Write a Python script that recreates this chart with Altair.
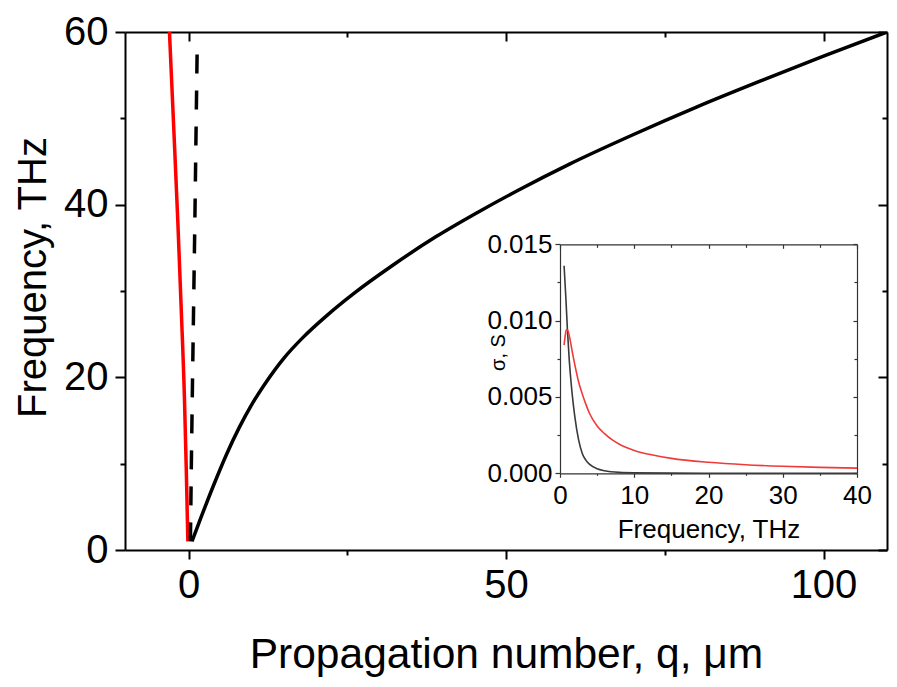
import altair as alt
import pandas as pd

FONT = "Liberation Sans"

# ---------------- main panel data ----------------
black_q = [0.55, 2, 4, 6, 8, 10, 12, 15, 18, 22, 26, 32, 39, 46, 52, 60, 70, 80, 90, 100, 110]
black_f = [1.0, 3.83, 7.59, 11.1, 14.2, 16.9, 19.2, 22.2, 24.6, 27.3, 29.7, 32.9, 36.3, 39.3, 41.7, 44.7,
           48.1, 51.3, 54.3, 57.2, 60.0]

red_q = [-3.0, -2.33, -1.69, -1.15, -0.63, -0.34, -0.1]
red_f = [60.0, 49.0, 38.2, 28.0, 17.4, 9.0, 1.0]

dash_q = [0.3, 0.45, 0.62, 0.8, 1.0, 1.18, 1.37]
dash_f = [1.0, 10.0, 19.0, 28.0, 38.0, 48.0, 58.3]

# ---------------- inset data ----------------
gray_freq = [0.55, 0.8, 1.0, 1.25, 1.5, 1.75, 2.0, 2.5, 3.0, 3.5, 4.0, 5.0, 6.0, 8.0, 10.0, 15.0, 20.0, 30.0, 40.0]
gray_sigma = [0.0136, 0.0114, 0.0094, 0.0074, 0.0059, 0.0047, 0.0037, 0.0022, 0.0013, 0.00085, 0.00058,
              0.00030, 0.00017, 0.00006, 0.00003, 0.00001, 0.000005, 0.000002, 0.000001]

red_freq = [0.55, 0.7, 0.85, 1.0, 1.3, 1.6, 2.0, 2.5, 3.0, 3.5, 4.0, 5.0, 6.0, 7.0, 8.0, 10.0, 12.5, 15.0, 20.0, 25.0, 30.0, 35.0, 40.0]
red_sigma = [0.0084, 0.0090, 0.0094, 0.0094, 0.0089, 0.0081, 0.0071, 0.0060, 0.0052, 0.0045, 0.0039, 0.0031,
             0.0026, 0.0022, 0.0019, 0.0015, 0.0012, 0.00098, 0.00072, 0.00056, 0.00046, 0.00039, 0.00034]

# ---------------- ticks ----------------
main_x_major = [0, 50, 100]
main_x_minor = [25, 75]
main_y_major = [0, 20, 40, 60]
main_y_minor = [10, 30, 50]
inset_x_major = [0, 10, 20, 30, 40]
inset_x_minor = [5, 15, 25, 35]
inset_y_major = [0.0, 0.005, 0.010, 0.015]
inset_y_minor = [0.0025, 0.0075, 0.0125]

W, H = 762, 518
IX = [435, 732]          # inset x range inside main plot
IY = [441.3, 212.3]      # inset y range inside main plot

df_black = pd.DataFrame({"q": black_q, "f": black_f})
df_red = pd.DataFrame({"q": red_q, "f": red_f})
df_dash = pd.DataFrame({"q": dash_q, "f": dash_f})
df_gray = pd.DataFrame({"nu": gray_freq, "s": gray_sigma})
df_ired = pd.DataFrame({"nu": red_freq, "s": red_sigma})


def guide(orient, values, size, color="black", width=2.0, offset=0, domain=True, **kw):
    args = dict(orient=orient, values=values, tickSize=size, tickColor=color, tickWidth=width,
                domain=domain, domainColor=color, domainWidth=width, grid=False, offset=offset,
                labelFlush=False, labelOverlap=False, title=None, labels=False)
    args.update(kw)
    return alt.Axis(**args)


def main_layer(df, mark, xaxis, yaxis):
    return alt.Chart(df).mark_line(**mark).encode(
        x=alt.X("q:Q", scale=alt.Scale(domain=[-10, 110], range=[0, W], nice=False, zero=False), axis=xaxis),
        y=alt.Y("f:Q", scale=alt.Scale(domain=[0, 60], range=[H, 0], nice=False, zero=False), axis=yaxis),
        order=alt.Order("f:Q"),
    )


def inset_layer(df, mark, xaxis, yaxis):
    return alt.Chart(df).mark_line(**mark).encode(
        x=alt.X("nu:Q", scale=alt.Scale(domain=[0, 40], range=IX, nice=False, zero=False), axis=xaxis),
        y=alt.Y("s:Q", scale=alt.Scale(domain=[0, 0.015], range=IY, nice=False, zero=False), axis=yaxis),
    )


x_bottom = guide("bottom", main_x_major, 9, labels=True, labelFontSize=40, labelFont=FONT, labelColor="black",
                 labelPadding=6, title="Propagation number, q, μm", titleFont=FONT, titleFontSize=42.5,
                 titleFontWeight="normal", titleColor="black", titleBaseline="alphabetic",
                 titleAlign="center", titleX=W / 2, titleY=117)
y_left = guide("left", main_y_major, 10, labels=True, labelFontSize=40, labelFont=FONT, labelColor="black",
               labelPadding=7, title="Frequency, THz", titleFont=FONT, titleFontSize=40,
               titleFontWeight="normal", titleColor="black", titleBaseline="alphabetic",
               titleAlign="center", titleAngle=270, titleX=-80, titleY=245)

ICOL = "#333333"
ix_bottom = guide("bottom", inset_x_major, 4, color=ICOL, width=1.2, offset=-(H - IY[0]), labels=True,
                  labelFontSize=26, labelFont=FONT, labelColor="black", labelPadding=5, format="d",
                  title="Frequency, THz", titleFont=FONT, titleFontSize=26, titleFontWeight="normal",
                  titleColor="black", titleBaseline="alphabetic", titleAlign="center",
                  titleX=(IX[0] + IX[1]) / 2, titleY=64)
iy_left = guide("left", inset_y_major, 5, color=ICOL, width=1.2, offset=-IX[0], labels=True,
                labelFontSize=26, labelFont=FONT, labelColor="black", labelPadding=3, format=".3f",
                title="σ, S", titleFont=FONT, titleFontSize=20, titleFontWeight="normal",
                titleColor="black", titleBaseline="alphabetic", titleAlign="center", titleAngle=270,
                titleX=-56, titleY=320)

layers = [
    main_layer(df_black, dict(color="black", strokeWidth=3.5, interpolate="monotone", clip=True), x_bottom, y_left),
    main_layer(df_red, dict(color="#ff0000", strokeWidth=3.5, interpolate="monotone", clip=True), None, None),
    main_layer(df_dash, dict(color="black", strokeWidth=3.5, strokeDash=[19, 17], clip=True), None, None),
    main_layer(df_black, dict(opacity=0),
               guide("bottom", main_x_minor, 5, domain=False),
               guide("left", main_y_minor, 5, domain=False)),
    main_layer(df_black, dict(opacity=0),
               guide("bottom", main_x_major, 9, offset=-H),
               guide("left", main_y_major, 9, offset=-W)),
    main_layer(df_black, dict(opacity=0),
               guide("bottom", main_x_minor, 5, offset=-H, domain=False),
               guide("left", main_y_minor, 5, offset=-W, domain=False)),
    inset_layer(df_gray, dict(color="#3a3a3a", strokeWidth=1.6, interpolate="monotone"), ix_bottom, iy_left),
    inset_layer(df_ired, dict(color="#f03a3a", strokeWidth=1.6, interpolate="monotone"), None, None),
    inset_layer(df_gray, dict(opacity=0),
                guide("bottom", inset_x_minor, 2, color=ICOL, width=1.2, offset=-(H - IY[0]), domain=False),
                guide("left", inset_y_minor, 3, color=ICOL, width=1.2, offset=-IX[0], domain=False)),
    inset_layer(df_gray, dict(opacity=0),
                guide("bottom", inset_x_major, 4, color=ICOL, width=1.2, offset=-(H - IY[1])),
                guide("left", inset_y_major, 4, color=ICOL, width=1.2, offset=-IX[1])),
    inset_layer(df_gray, dict(opacity=0),
                guide("bottom", inset_x_minor, 3, color=ICOL, width=1.2, offset=-(H - IY[1]), domain=False),
                guide("left", inset_y_minor, 3, color=ICOL, width=1.2, offset=-IX[1], domain=False)),
]

chart = alt.layer(*layers).resolve_scale(x="independent", y="independent").properties(
    width=W, height=H,
    autosize=alt.AutoSizeParams(type="none"),
    padding={"left": 117, "top": 24, "right": 2, "bottom": 129},
).configure_view(stroke=None).configure(font=FONT)

chart.save("out.html", embed_options={"renderer": "svg", "actions": False})
